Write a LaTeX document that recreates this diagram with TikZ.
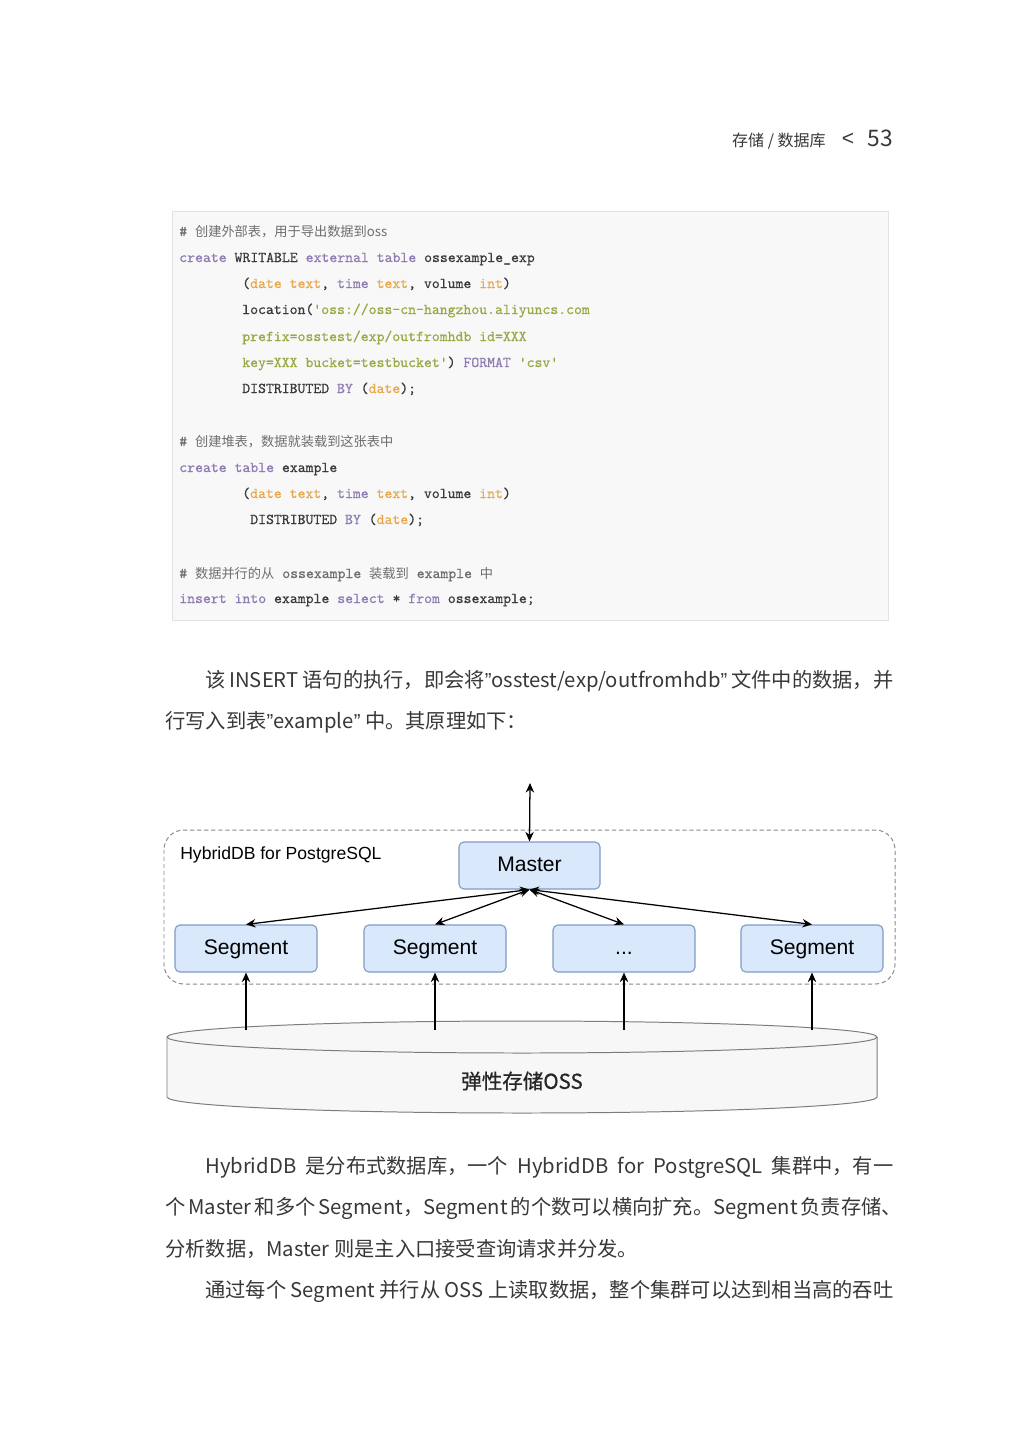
\documentclass[tikz,border=0pt]{standalone}
\usepackage{fontspec}
\setmainfont{Noto Sans CJK SC}
\newfontfamily\labelfont{Liberation Sans}
\newfontfamily\codefont{lmmono10-regular.otf}[FakeBold=0.6]
\usetikzlibrary{arrows.meta}

\newlength\pxu
\setlength\pxu{0.025cm}

\definecolor{pagetext}{HTML}{383838}
\definecolor{codebg}{HTML}{F8F8F8}
\definecolor{codeframe}{HTML}{E2E2E2}
\definecolor{codetext}{HTML}{3A3A3A}
\definecolor{cmtcol}{HTML}{6E6E6E}
\definecolor{kwcol}{HTML}{8E7CB3}
\definecolor{tycol}{HTML}{E9A84A}
\definecolor{strcol}{HTML}{9AA845}
\definecolor{boxfill}{HTML}{DAE8FC}
\definecolor{boxline}{HTML}{7F9CC4}
\definecolor{groupline}{HTML}{8A8A8A}
\definecolor{cylfill}{HTML}{F7F7F7}
\definecolor{cylline}{HTML}{7C7C7C}

\newcommand\sqlkw[1]{\textcolor{kwcol}{#1}}
\newcommand\sqlty[1]{\textcolor{tycol}{#1}}
\newcommand\sqlstr[1]{\textcolor{strcol}{#1}}
\newcommand\cmtzh[1]{{\rmfamily\fontsize{9.4}{11}\selectfont #1}}
\newcommand\cq{{\labelfont ”}}

\tikzset{
  codeline/.style={anchor=base west, inner sep=0pt, text=codetext,
    font=\codefont\fontsize{10.7}{12}\selectfont},
  cmtline/.style={codeline, text=cmtcol},
  bodyline/.style={anchor=base west, inner sep=0pt, text=pagetext,
    font=\fontsize{14.4}{17}\selectfont},
  segbox/.style={draw=boxline, fill=boxfill, line width=0.8pt,
    rounded corners=3.5pt, minimum width=142\pxu, minimum height=47\pxu,
    text height=11pt, text depth=3pt,
    font=\labelfont\fontsize{15}{18}\selectfont},
  link/.style={line width=0.9pt, <->},
  feed/.style={line width=0.9pt, ->},
}

\begin{document}
\begin{tikzpicture}[x=0.025cm,y=-0.025cm,>={Stealth[length=6.8pt,width=6pt]}]
\fill[white] (0,0) rectangle (1031,1440);
\useasboundingbox (0,0) rectangle (1031,1440);

% running head
\node[anchor=base east, inner sep=0pt, text=pagetext, font=\fontsize{16.2}{18}\selectfont] (pgno) at (893,146) {53};
\node[anchor=base, inner sep=0pt, text=pagetext, font=\labelfont\fontsize{15}{18}\selectfont] (sep) at (848,145) {<};
\node[anchor=base east, inner sep=0pt, text=pagetext, font=\fontsize{11.4}{14}\selectfont] (head) at (826,146) {存储 / 数据库};

% code listing
\draw[codeframe, fill=codebg] (172,211) rectangle (888,620);
\node[cmtline] (c1) at (179,236) {\# \cmtzh{创建外部表，用于导出数据到oss}};
\node[codeline] (c2) at (179,262) {\sqlkw{create} WRITABLE \sqlkw{external} \sqlkw{table} ossexample\_exp};
\node[codeline] (c3) at (242,288) {(\sqlty{date} \sqlty{text}, \sqlkw{time} \sqlty{text}, volume \sqlty{int})};
\node[codeline] (c4) at (242,314) {location(\sqlstr{'oss://oss-cn-hangzhou.aliyuncs.com}};
\node[codeline] (c5) at (242,341) {\sqlstr{prefix=osstest/exp/outfromhdb id=XXX}};
\node[codeline] (c6) at (242,367) {\sqlstr{key=XXX bucket=testbucket'}) \sqlkw{FORMAT} \sqlstr{'csv'}};
\node[codeline] (c7) at (242,393) {DISTRIBUTED \sqlkw{BY} (\sqlty{date});};
\node[cmtline] (c8) at (179,446) {\# \cmtzh{创建堆表，数据就装载到这张表中}};
\node[codeline] (c9) at (179,472) {\sqlkw{create} \sqlkw{table} example};
\node[codeline] (c10) at (242,498) {(\sqlty{date} \sqlty{text}, \sqlkw{time} \sqlty{text}, volume \sqlty{int})};
\node[codeline] (c11) at (250,524) {DISTRIBUTED \sqlkw{BY} (\sqlty{date});};
\node[cmtline] (c12) at (179,578) {\# \cmtzh{数据并行的从} ossexample \cmtzh{装载到} example \cmtzh{中}};
\node[codeline] (c13) at (179,603) {\sqlkw{insert} \sqlkw{into} example \sqlkw{select} * \sqlkw{from} ossexample;};

% text before the figure
\node[bodyline] (p1a) at (205,687) {\makebox[688\pxu][s]{该 INSERT 语句的执行，即会将\cq osstest/exp/outfromhdb\cq{} 文件中的数据，并}};
\node[bodyline] (p1b) at (165,728) {行写入到表\cq example\cq{} 中。其原理如下：};

% cluster
\draw[groupline, dash pattern=on 3pt off 2pt, rounded corners=14pt, line width=0.7pt] (164,830) rectangle (895,984);
\node[anchor=west, inner sep=0pt, font=\labelfont\fontsize{12.5}{15}\selectfont] (hdb) at (180,855) {HybridDB for PostgreSQL};

\node[segbox, minimum width=141\pxu] (master) at (529.5,865.5) {Master};
\node[segbox] (seg1) at (246,948.5) {Segment};
\node[segbox] (seg2) at (435,948.5) {Segment};
\node[segbox] (seg3) at (624,948.5) {...};
\node[segbox] (seg4) at (812,948.5) {Segment};

\coordinate (client) at (530,783);
\draw[link] (client) -- (master.north);
\draw[link] (master.south) -- (seg1.north);
\draw[link] (master.south) -- (seg2.north);
\draw[link] (master.south) -- (seg3.north);
\draw[link] (master.south) -- (seg4.north);

% OSS storage
\fill[cylfill] (167,1037) -- (167,1097) arc[start angle=180, end angle=360, x radius=355\pxu, y radius=16\pxu]
  -- (877,1037) arc[start angle=0, end angle=180, x radius=355\pxu, y radius=16\pxu] -- cycle;
\draw[cylline, line width=0.7pt] (167,1037) -- (167,1097) arc[start angle=180, end angle=360, x radius=355\pxu, y radius=16\pxu] -- (877,1037);
\draw[cylline, line width=0.7pt] (522,1037) ellipse[x radius=355\pxu, y radius=16\pxu];
\node[text=black!85, font=\addfontfeatures{FakeBold=0.8}\fontsize{14.6}{17}\selectfont] (oss) at (522,1081) {弹性存储OSS};

\coordinate (read1) at (246,1030);
\coordinate (read2) at (435,1030);
\coordinate (read3) at (624,1030);
\coordinate (read4) at (812,1030);
\draw[feed] (read1) -- (seg1.south);
\draw[feed] (read2) -- (seg2.south);
\draw[feed] (read3) -- (seg3.south);
\draw[feed] (read4) -- (seg4.south);

% text after the figure
\node[bodyline] (p2a) at (205,1173) {\makebox[688\pxu][s]{HybridDB 是分布式数据库，一个 HybridDB for PostgreSQL 集群中，有一}};
\node[bodyline] (p2b) at (165,1214) {\makebox[728\pxu][s]{个 Master 和多个 Segment，Segment 的个数可以横向扩充。Segment 负责存储、}};
\node[bodyline] (p2c) at (165,1256) {分析数据，Master 则是主入口接受查询请求并分发。};
\node[bodyline] (p2d) at (205,1297) {\makebox[688\pxu][s]{通过每个 Segment 并行从 OSS 上读取数据，整个集群可以达到相当高的吞吐}};
\end{tikzpicture}
\end{document}
